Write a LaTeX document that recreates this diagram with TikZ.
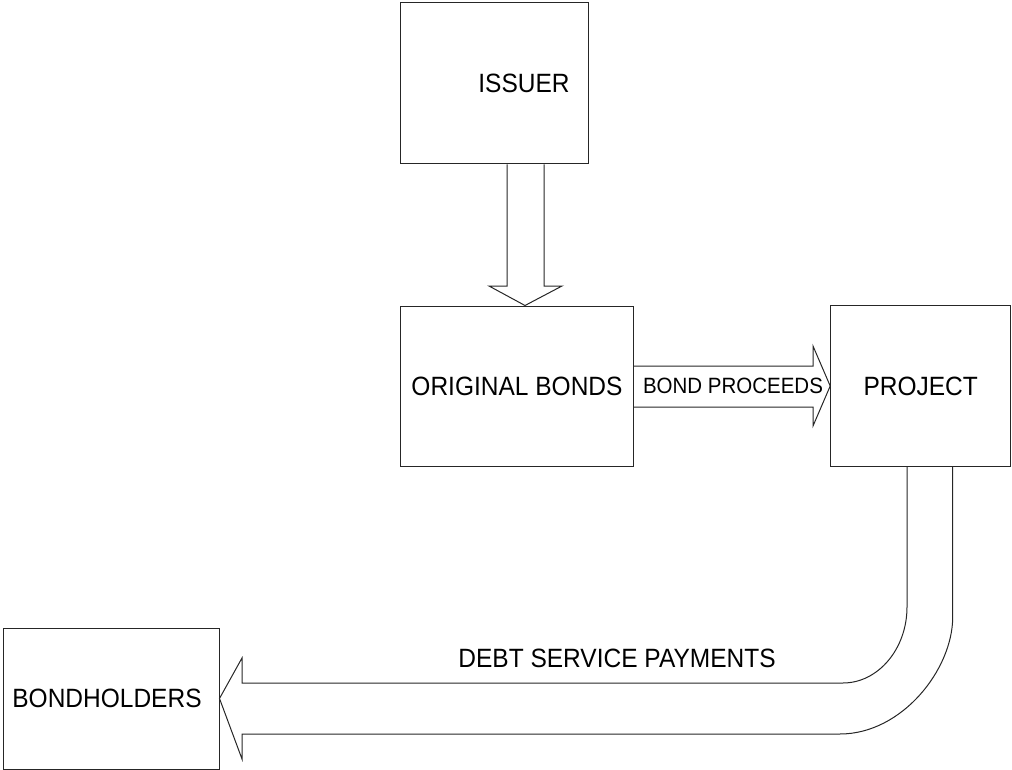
\documentclass[tikz,border=0pt]{standalone}
\usepackage{fontspec}
\setmainfont{Liberation Sans}
\newcommand{\tallt}[1]{\scalebox{1}[1.08]{#1}}
\begin{document}
\begin{tikzpicture}[x=1pt,y=-1pt,
  box/.style={draw=black!85,line width=1pt,fill=white,inner sep=0pt},
  blk/.style={draw=black!85,line width=1pt,line join=miter},
  lbl/.style={font=\fontsize{24.5}{27}\selectfont,inner sep=0pt},
  small/.style={font=\fontsize{20.5}{23}\selectfont,inner sep=0pt}]
\useasboundingbox (0,0) rectangle (1012,770);
\node[box,minimum width=188pt,minimum height=161pt] (issuer) at (494,83.5) {};
\node[lbl] at (524,83) {\tallt{ISSUER}};
\node[box,minimum width=233pt,minimum height=160pt] (ob) at (516.5,386) {};
\node[lbl] at (517,386) {\tallt{ORIGINAL BONDS}};
\node[box,minimum width=180pt,minimum height=161pt] (proj) at (920.7,386) {};
\node[lbl] at (920.7,386) {\tallt{PROJECT}};
\node[box,minimum width=216pt,minimum height=141pt] (bh) at (111,698.5) {};
\node[lbl] at (107,698) {\tallt{BONDHOLDERS}};
% issuer -> original bonds
\draw[blk] (issuer.south -| 507,0) -- (507,286) -- (489,286) -- (ob.north -| 525,0) -- (562,286) -- (544,286) -- (issuer.south -| 544,0);
% original bonds -> project
\draw[blk] (ob.east |- 0,366) -- (813,366) -- (813,346) -- (proj.west) -- (813,426) -- (813,407) -- (ob.east |- 0,407);
\node[small] at (733,386) {\tallt{BOND PROCEEDS}};
% project -> bondholders
\draw[blk] (proj.south -| 907,0) -- (907,607) .. controls (907,649) and (878,683) .. (843,683) -- (242,683) -- (242,658) -- (bh.east) -- (242,759) -- (242,734) -- (840,734) .. controls (902,734) and (952.7,669.4) .. (952.7,617) -- (proj.south -| 952.7,0);
\node[lbl] at (617,658) {\tallt{DEBT SERVICE PAYMENTS}};
\end{tikzpicture}
\end{document}
